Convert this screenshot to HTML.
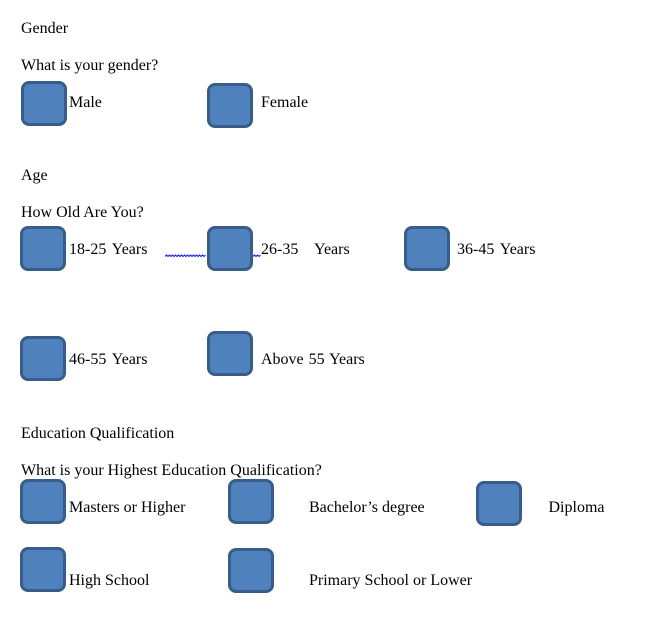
<!DOCTYPE html>
<html>
<head>
<meta charset="utf-8">
<style>
html,body{margin:0;padding:0;background:#fff;}
#p{position:relative;width:650px;height:617px;overflow:hidden;background:#fff;font-family:"Liberation Serif",serif;font-size:16px;line-height:18px;color:#000;}
.t{position:absolute;white-space:pre;}
.w2{word-spacing:2px;}
.w1{word-spacing:1px;}
.b{position:absolute;box-sizing:border-box;width:46px;height:45px;background:#4f81bd;border:3px solid #385d8a;border-radius:8px;}
svg{position:absolute;left:0;top:0;}
</style>
</head>
<body>
<div id="p">
<svg width="650" height="617">
<path d="M165 256.5l1.5-1.5 1.5 1.5 1.5-1.5 1.5 1.5 1.5-1.5 1.5 1.5 1.5-1.5 1.5 1.5 1.5-1.5 1.5 1.5 1.5-1.5 1.5 1.5 1.5-1.5 1.5 1.5 1.5-1.5 1.5 1.5 1.5-1.5 1.5 1.5 1.5-1.5 1.5 1.5 1.5-1.5 1.5 1.5 1.5-1.5 1.5 1.5 1.5-1.5 1.5 1.5 1.5-1.5 M253 256.5l1.5-1.5 1.5 1.5 1.5-1.5 1.5 1.5 1.5-1.5" fill="none" stroke="#1a1aff" stroke-width="1.1"/>
</svg>

<div class="t" style="left:21px;top:20px">Gender</div>
<div class="t" style="left:21px;top:57px">What is your gender?</div>
<div class="b" style="left:21px;top:81px"></div>
<div class="t" style="left:69px;top:94px">Male</div>
<div class="b" style="left:207px;top:83px"></div>
<div class="t" style="left:261px;top:94px">Female</div>

<div class="t" style="left:21px;top:167px">Age</div>
<div class="t" style="left:21px;top:204px">How Old Are You?</div>
<div class="b" style="left:20px;top:226px"></div>
<div class="t w2" style="left:69px;top:241px">18-25 Years</div>
<div class="b" style="left:207px;top:226px"></div>
<div class="t" style="left:261px;top:241px">26-35</div>
<div class="t" style="left:314px;top:241px">Years</div>
<div class="b" style="left:404px;top:226px"></div>
<div class="t w2" style="left:457px;top:241px">36-45 Years</div>

<div class="b" style="left:20px;top:336px"></div>
<div class="t w2" style="left:69px;top:351px">46-55 Years</div>
<div class="b" style="left:207px;top:331px"></div>
<div class="t w1" style="left:261px;top:351px">Above 55 Years</div>

<div class="t" style="left:21px;top:425px">Education Qualification</div>
<div class="t" style="left:21px;top:462px">What is your Highest Education Qualification?</div>
<div class="b" style="left:20px;top:479px"></div>
<div class="t" style="left:69px;top:499px">Masters or Higher</div>
<div class="b" style="left:228px;top:479px"></div>
<div class="t" style="left:309px;top:499px">Bachelor’s degree</div>
<div class="b" style="left:476px;top:481px"></div>
<div class="t" style="left:548.5px;top:499px">Diploma</div>

<div class="b" style="left:20px;top:547px"></div>
<div class="t" style="left:69px;top:572px">High School</div>
<div class="b" style="left:228px;top:548px"></div>
<div class="t" style="left:309px;top:572px">Primary School or Lower</div>
</div>
</body>
</html>
